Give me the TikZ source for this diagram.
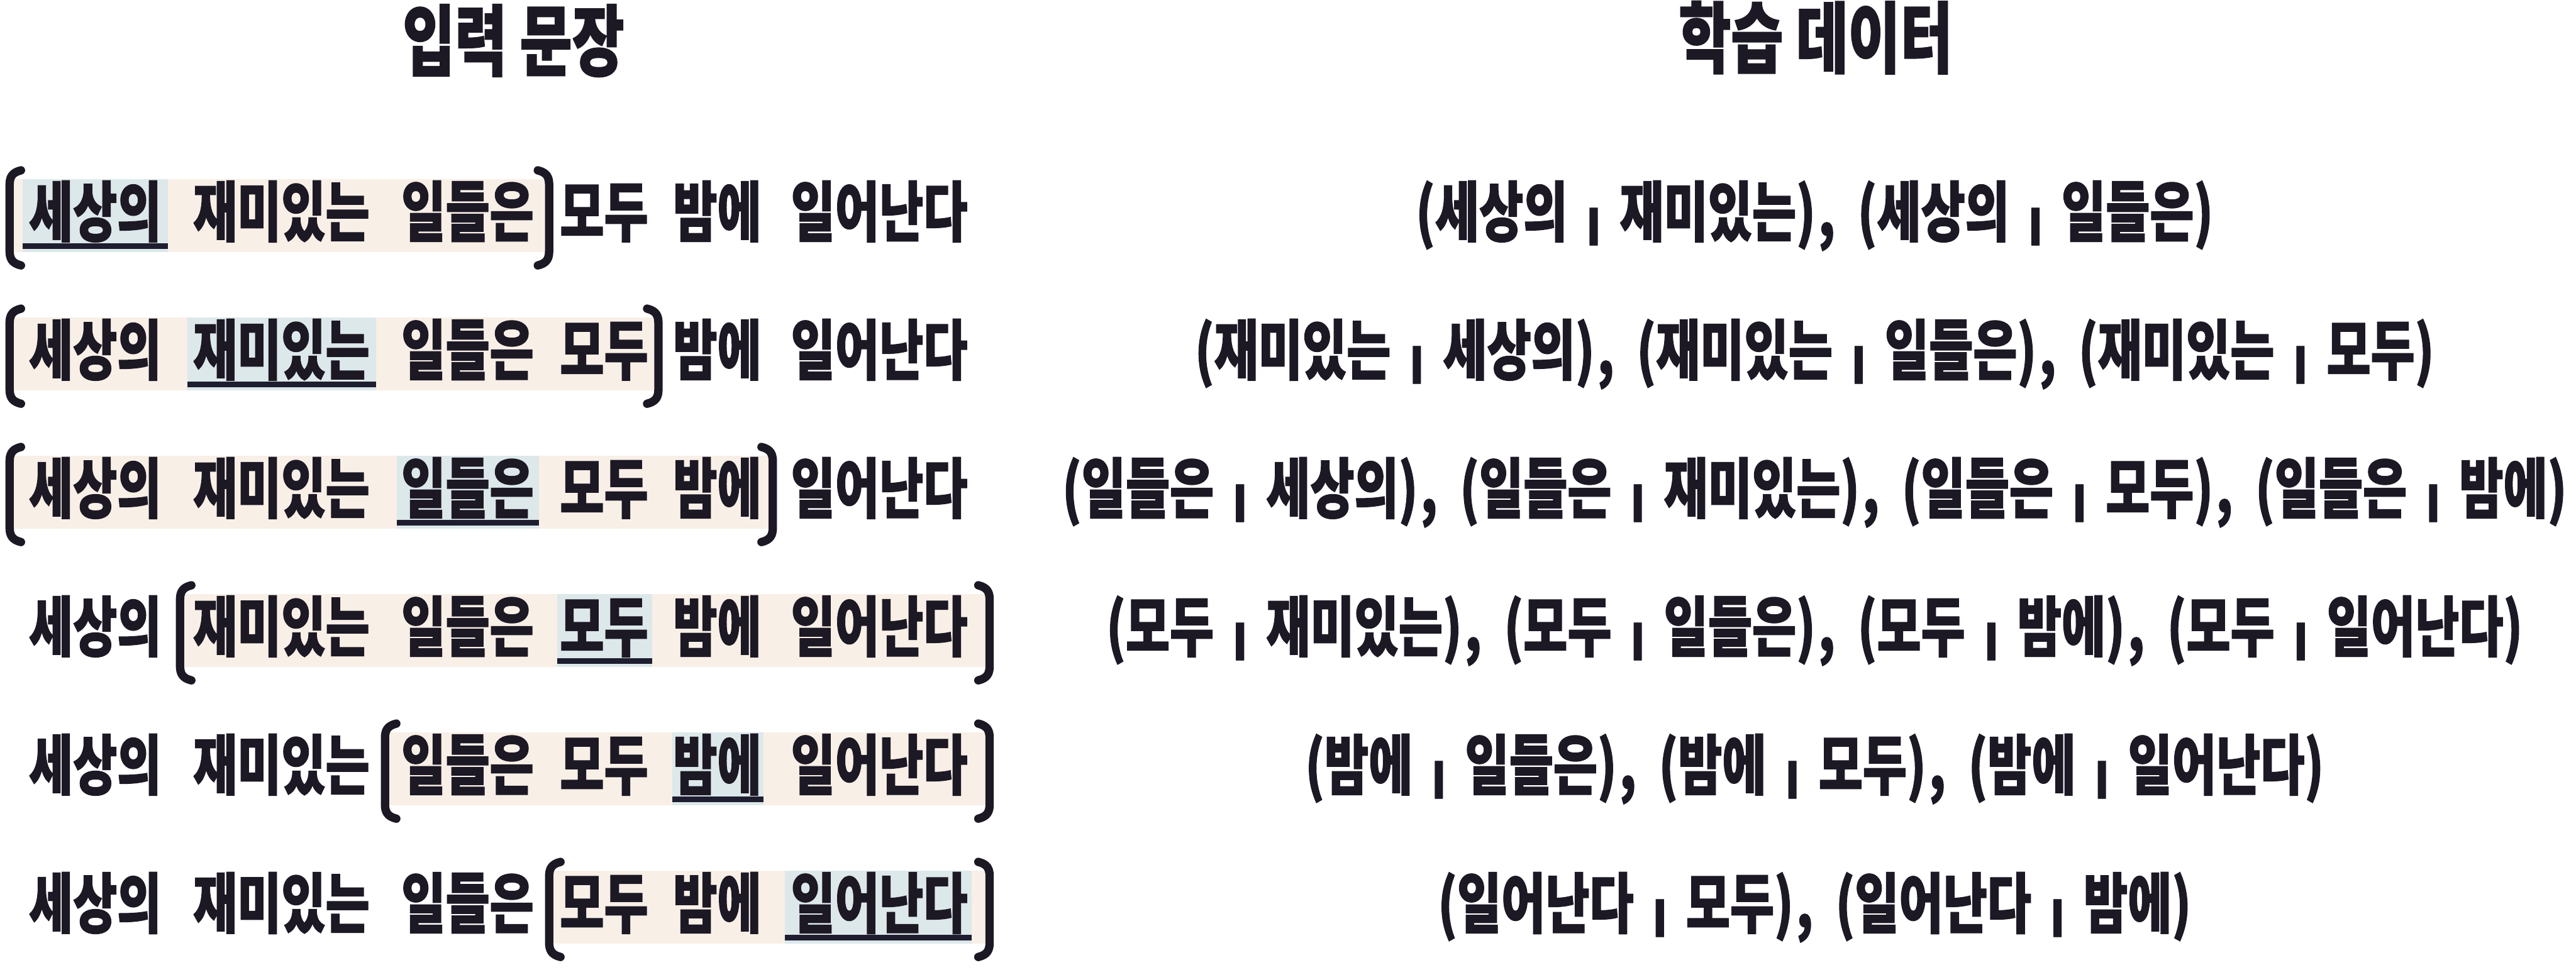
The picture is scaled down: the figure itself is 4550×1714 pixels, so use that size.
\documentclass[tikz,border=0pt]{standalone}
\usepackage{fontspec}
\usepackage{graphicx}
\newfontfamily\kr{Noto Sans CJK KR}[FakeStretch=0.73, BoldFeatures={FakeBold=1.2}]
\definecolor{ink}{RGB}{28,24,36}
\definecolor{creamc}{RGB}{248,239,231}
\definecolor{bluec}{RGB}{221,232,234}
\definecolor{ulc}{RGB}{30,30,48}
\newcommand\sepbar{\hspace{0.29cm}\scalebox{1.3}[0.5]{|}\hspace{0.29cm}}
\newcommand\pr[2]{(#1\sepbar#2)}
\newcommand\pcomma{\hspace{0.05cm},\hspace{0.40cm}}
\tikzset{
  x=0.01cm, y=-0.01cm,
  word/.style={font=\kr\bfseries\fontsize{33}{40}\selectfont, text=ink, inner sep=0pt, anchor=base},
  title/.style={font=\kr\bfseries\fontsize{39}{46}\selectfont, text=ink, inner sep=0pt, anchor=base},
  brk/.style={draw=ink, line width=4.2pt, line cap=round, line join=round},
  creambox/.style={fill=creamc},
  bluebox/.style={fill=bluec},
  uline/.style={fill=ulc}
}
\begin{document}
\begin{tikzpicture}
\useasboundingbox[fill=white] (0,0) rectangle (4550,1714);
% highlight boxes: row / cream left / cream right / blue left / blue right
\foreach \cy/\cl/\cr/\bl/\br in {383/24/965/40/297, 627.4/24/1158/331/664, 871.8/24/1360/701/952, 1116.2/325/1742/984/1152, 1360.6/687/1742/1187/1348, 1605/977/1742/1386/1716} {
  \fill[creambox] (\cl,\cy-66) rectangle (\cr,\cy+62);
  \fill[bluebox] (\bl,\cy-66) rectangle (\br,\cy+62);
  \fill[uline] (\bl,\cy+47) rectangle (\br,\cy+57);
}
% titles
\node[title] (h1) at (907,123) {입력 문장};
\node[title] (h2) at (3207,118) {학습 데이터};
% sentences
\foreach \r/\cy in {1/383,2/627.4,3/871.8,4/1116.2,5/1360.6,6/1605} {
  \foreach \k/\cx/\t in {1/168/세상의, 2/497/재미있는, 3/826/일들은, 4/1067/모두, 5/1267/밤에, 6/1553/일어난다}
    \node[word] (w\r-\k) at (\cx,\cy+34) {\t};
}
% brackets: row centre / left x / right x
\foreach \cy/\lx/\rx in {383/17/970, 627.4/17/1163, 871.8/17/1365, 1116.2/318/1748, 1360.6/680/1748, 1605/970/1748} {
  \draw[brk] (\lx+20,\cy-82) .. controls (\lx+4,\cy-78) and (\lx,\cy-70) .. (\lx,\cy-56) -- (\lx,\cy+60) .. controls (\lx,\cy+74) and (\lx+4,\cy+82) .. (\lx+20,\cy+86);
  \draw[brk] (\rx-20,\cy-82) .. controls (\rx-4,\cy-78) and (\rx,\cy-70) .. (\rx,\cy-56) -- (\rx,\cy+60) .. controls (\rx,\cy+74) and (\rx-4,\cy+82) .. (\rx-20,\cy+86);
}
% training data
\node[word] (t1) at (3205,383+34) {\pr{세상의}{재미있는}\pcomma\pr{세상의}{일들은}};
\node[word] (t2) at (3205,627.4+34) {\pr{재미있는}{세상의}\pcomma\pr{재미있는}{일들은}\pcomma\pr{재미있는}{모두}};
\node[word] (t3) at (3205,871.8+34) {\pr{일들은}{세상의}\pcomma\pr{일들은}{재미있는}\pcomma\pr{일들은}{모두}\pcomma\pr{일들은}{밤에}};
\node[word] (t4) at (3205,1116.2+34) {\pr{모두}{재미있는}\pcomma\pr{모두}{일들은}\pcomma\pr{모두}{밤에}\pcomma\pr{모두}{일어난다}};
\node[word] (t5) at (3205,1360.6+34) {\pr{밤에}{일들은}\pcomma\pr{밤에}{모두}\pcomma\pr{밤에}{일어난다}};
\node[word] (t6) at (3205,1605+34) {\pr{일어난다}{모두}\pcomma\pr{일어난다}{밤에}};
\end{tikzpicture}
\end{document}
